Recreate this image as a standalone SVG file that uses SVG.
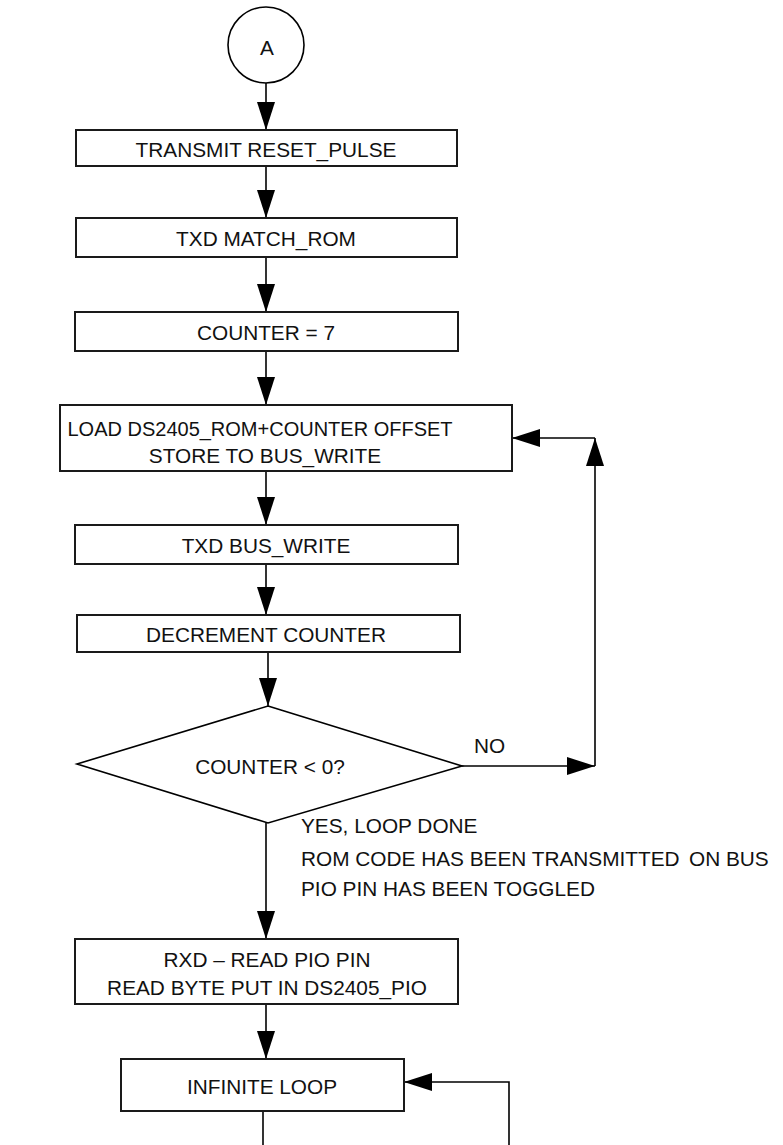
<svg xmlns="http://www.w3.org/2000/svg" width="783" height="1145" viewBox="0 0 783 1145">
  <style>
    .box { fill: #ffffff; stroke: #1a1a1a; stroke-width: 2; }
    .ln { fill: none; stroke: #000000; stroke-width: 1.6; }
    .lbl { font-family: "Liberation Sans", Arial, sans-serif; font-size: 20.8px; fill: #111111; }
    .c { text-anchor: middle; }
  </style>
  <defs>
    <marker id="arr" viewBox="0 0 28 18" refX="28" refY="9" markerWidth="28" markerHeight="18" markerUnits="userSpaceOnUse" orient="auto">
      <path d="M0,0 L28,9 L0,18 Z" fill="#000000"/>
    </marker>
  </defs>

  <rect width="783" height="1145" fill="#ffffff"/>

  <g id="connectors">
    <line class="ln" x1="266" y1="83" x2="266" y2="130" marker-end="url(#arr)"/>
    <line class="ln" x1="266" y1="166" x2="266" y2="218" marker-end="url(#arr)"/>
    <line class="ln" x1="266" y1="257" x2="266" y2="312" marker-end="url(#arr)"/>
    <line class="ln" x1="266" y1="351" x2="266" y2="405" marker-end="url(#arr)"/>
    <line class="ln" x1="266" y1="471" x2="266" y2="525" marker-end="url(#arr)"/>
    <line class="ln" x1="266" y1="564" x2="266" y2="615" marker-end="url(#arr)"/>
    <line class="ln" x1="268" y1="652" x2="268" y2="706" marker-end="url(#arr)"/>
    <!-- NO branch back to the load step -->
    <line class="ln" x1="462" y1="766" x2="595" y2="766" marker-end="url(#arr)"/>
    <line class="ln" x1="595" y1="766" x2="595" y2="438" marker-end="url(#arr)"/>
    <line class="ln" x1="595" y1="438" x2="512" y2="438" marker-end="url(#arr)"/>
    <!-- YES branch -->
    <line class="ln" x1="266" y1="823" x2="266" y2="939" marker-end="url(#arr)"/>
    <line class="ln" x1="266" y1="1004" x2="266" y2="1059" marker-end="url(#arr)"/>
    <!-- infinite loop return -->
    <line class="ln" x1="263" y1="1111" x2="263" y2="1145"/>
    <polyline class="ln" points="509,1145 509,1082 404,1082" marker-end="url(#arr)"/>
  </g>

  <g id="start-a">
    <circle cx="266" cy="45" r="38" fill="#ffffff" stroke="#000000" stroke-width="1.6"/>
    <text class="lbl c" x="267" y="55">A</text>
  </g>

  <g id="transmit-reset">
    <rect class="box" x="76" y="130" width="381" height="36"/>
    <text class="lbl c" x="266" y="157">TRANSMIT RESET_PULSE</text>
  </g>

  <g id="txd-match-rom">
    <rect class="box" x="76" y="218" width="381" height="39"/>
    <text class="lbl c" x="266" y="246">TXD MATCH_ROM</text>
  </g>

  <g id="counter-init">
    <rect class="box" x="75" y="312" width="383" height="39"/>
    <text class="lbl c" x="266" y="340">COUNTER = 7</text>
  </g>

  <g id="load-rom">
    <rect class="box" x="60" y="405" width="452" height="66"/>
    <text class="lbl c" x="260" y="436" style="font-size:20px">LOAD DS2405_ROM+COUNTER OFFSET</text>
    <text class="lbl c" x="265" y="463">STORE TO BUS_WRITE</text>
  </g>

  <g id="txd-bus-write">
    <rect class="box" x="75" y="525" width="383" height="39"/>
    <text class="lbl c" x="266" y="553">TXD BUS_WRITE</text>
  </g>

  <g id="decrement">
    <rect class="box" x="77" y="615" width="383" height="37"/>
    <text class="lbl c" x="266" y="642">DECREMENT COUNTER</text>
  </g>

  <g id="counter-check">
    <polygon points="268,706 462,766 268,823 77,764" fill="#ffffff" stroke="#000000" stroke-width="1.6"/>
    <text class="lbl c" x="270" y="774">COUNTER &lt; 0?</text>
    <text class="lbl" x="474" y="753">NO</text>
    <text class="lbl" x="301" y="833">YES, LOOP DONE</text>
    <text class="lbl" x="301" y="866">ROM CODE HAS BEEN TRANSMITTED<tspan x="689">ON BUS</tspan></text>
    <text class="lbl" x="301" y="896">PIO PIN HAS BEEN TOGGLED</text>
  </g>

  <g id="read-pio">
    <rect class="box" x="75" y="939" width="383" height="65"/>
    <text class="lbl c" x="267" y="967">RXD – READ PIO PIN</text>
    <text class="lbl c" x="267" y="995">READ BYTE PUT IN DS2405_PIO</text>
  </g>

  <g id="infinite-loop">
    <rect class="box" x="121" y="1059" width="283" height="52"/>
    <text class="lbl c" x="262" y="1094">INFINITE LOOP</text>
  </g>
</svg>
